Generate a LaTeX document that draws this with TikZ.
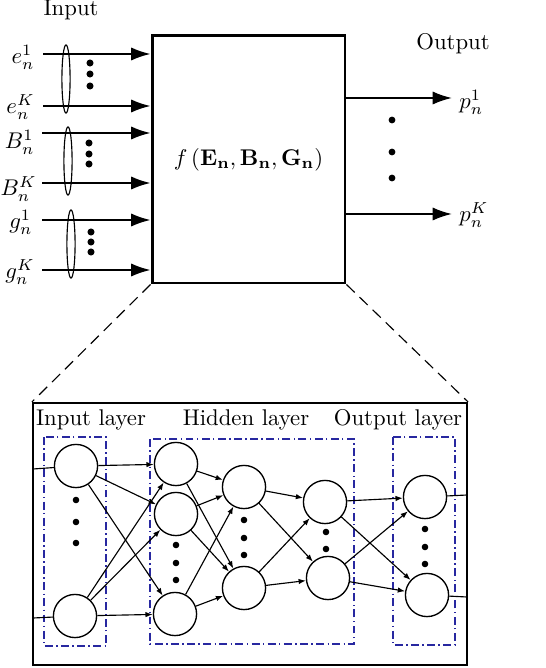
\documentclass[tikz,border=0pt]{standalone}
\usepackage{amsmath}
\usetikzlibrary{arrows.meta}
\definecolor{dblue}{RGB}{40,40,160}
\tikzset{
  bigarrow/.style={line width=0.85pt,-{Latex[length=8.5pt,width=5.8pt]}},
  lbl/.style={inner sep=0pt},
  neuron/.style={draw,circle,line width=0.6pt,minimum size=19pt,inner sep=0pt},
  edge/.style={line width=0.5pt,-{Latex[length=3.2pt,width=2.4pt]}},
  plain/.style={line width=0.5pt},
  layerbox/.style={draw=dblue,line width=0.6pt,dash pattern=on 3.5pt off 1.5pt on 0.6pt off 1.5pt},
  zoomline/.style={line width=0.5pt,dash pattern=on 5pt off 3pt},
  dotty/.style={fill=black},
  ell/.style={draw,line width=0.5pt}
}
\begin{document}
\begin{tikzpicture}[x=0.44pt,y=-0.44pt]
\useasboundingbox (0,0) rectangle (546,668);

% main function box
\node[draw,line width=1.3pt,minimum width=84.9pt,minimum height=108.7pt,inner sep=0pt] (box) at (248.5,159.5) {$f\left(\mathbf{E_n},\mathbf{B_n},\mathbf{G_n}\right)$};

% titles
\node[lbl] (tin) at (71,10) {Input};
\node[lbl] (tout) at (453,44) {Output};

% input labels
\node[lbl,anchor=east] (le1) at (35,57) {$e_n^1$};
\node[lbl,anchor=east] (leK) at (35,107) {$e_n^K$};
\node[lbl,anchor=east] (lB1) at (35,142) {$B_n^1$};
\node[lbl,anchor=east] (lBK) at (37,189) {$B_n^K$};
\node[lbl,anchor=east] (lg1) at (33,222) {$g_n^1$};
\node[lbl,anchor=east] (lgK) at (35,272) {$g_n^K$};

% input arrows
\coordinate (s1) at (43,54);
\coordinate (s2) at (43,106);
\coordinate (s3) at (42,133);
\coordinate (s4) at (42,183);
\coordinate (s5) at (42,220);
\coordinate (s6) at (42,270);
\foreach \s in {s1,s2,s3,s4,s5,s6} {\draw[bigarrow] (\s) -- (\s -| box.west);}

% ellipses
\draw[ell] (66,79) ellipse [x radius=1.8pt, y radius=15pt];
\draw[ell] (68,161) ellipse [x radius=1.8pt, y radius=15pt];
\draw[ell] (71,244) ellipse [x radius=1.8pt, y radius=15pt];

% dots
\foreach \y in {63,74,86} \fill[dotty] (90,\y) circle (1.55pt);
\foreach \y in {143,154,164} \fill[dotty] (89,\y) circle (1.55pt);
\foreach \y in {232,242,252} \fill[dotty] (91,\y) circle (1.55pt);

% output arrows and labels
\coordinate (t1) at (452,98);
\coordinate (t2) at (452,214);
\draw[bigarrow] (t1 -| box.east) -- (t1);
\draw[bigarrow] (t2 -| box.east) -- (t2);
\node[lbl,anchor=west] (lp1) at (459,102) {$p_n^1$};
\node[lbl,anchor=west] (lpK) at (459,215) {$p_n^K$};
\foreach \y in {120,152,178} \fill[dotty] (392,\y) circle (1.5pt);

% network box
\node[draw,line width=0.9pt,minimum width=191pt,minimum height=115.3pt,inner sep=0pt] (net) at (250,534) {};
\draw[zoomline] (box.south west) -- (net.north west);
\draw[zoomline] (box.south east) -- (net.north east);

% layer boxes
\draw[layerbox] (44,437) rectangle (106,646);
\draw[layerbox] (150,439) rectangle (354,644);
\draw[layerbox] (393,437) rectangle (455,645);
\node[lbl] (til) at (91,420) {Input layer};
\node[lbl] (thl) at (246,420) {Hidden layer};
\node[lbl] (tol) at (398,420) {Output layer};

% neurons
\node[neuron] (I1) at (76,466) {};
\node[neuron] (I2) at (75,616) {};
\node[neuron] (H1a) at (176,464) {};
\node[neuron] (H1b) at (176,514) {};
\node[neuron] (H1c) at (175,614) {};
\node[neuron] (H2a) at (244,487) {};
\node[neuron] (H2b) at (244,588) {};
\node[neuron] (H3a) at (325,502) {};
\node[neuron] (H3b) at (328,578) {};
\node[neuron] (O1) at (425,497) {};
\node[neuron] (O2) at (427,595) {};

% layer dots
\foreach \y in {500,522,543} \fill[dotty] (76,\y) circle (1.45pt);
\foreach \y in {545,563,580} \fill[dotty] (176,\y) circle (1.45pt);
\foreach \y in {520,538,555} \fill[dotty] (244,\y) circle (1.45pt);
\foreach \y in {532,549} \fill[dotty] (326,\y) circle (1.45pt);
\foreach \y in {529,547,564} \fill[dotty] (425,\y) circle (1.45pt);

% in/out lines
\coordinate (in1) at (33,469);
\coordinate (in2) at (33,618);
\coordinate (out1) at (467,495);
\coordinate (out2) at (467,597);
\draw[plain] (in1) -- (I1);
\draw[plain] (in2) -- (I2);
\draw[plain] (O1) -- (out1);
\draw[plain] (O2) -- (out2);

% edges
\foreach \a in {I1,I2} \foreach \b in {H1a,H1b,H1c} \draw[edge] (\a) -- (\b);
\foreach \a in {H1a,H1b,H1c} \foreach \b in {H2a,H2b} \draw[edge] (\a) -- (\b);
\foreach \a in {H2a,H2b} \foreach \b in {H3a,H3b} \draw[edge] (\a) -- (\b);
\foreach \a in {H3a,H3b} \foreach \b in {O1,O2} \draw[edge] (\a) -- (\b);
\end{tikzpicture}
\end{document}
